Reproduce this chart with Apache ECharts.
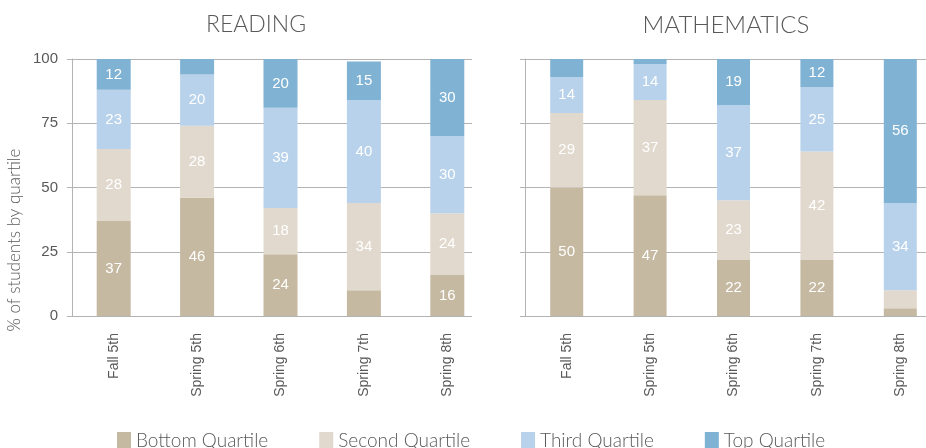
<!DOCTYPE html>
<html>
<head>
<meta charset="utf-8">
<script src="https://cdn.jsdelivr.net/npm/echarts@6/dist/echarts.min.js"></script>
<style>
  html, body { margin: 0; padding: 0; background: #fff; overflow: hidden; }
  /* a bit wider than the window: the math panel runs off the right edge */
  #chart { width: 950px; height: 448px; }
</style>
</head>
<body>
<div id="chart"></div>
<script>
// grades / test periods
var categories = ['Fall 5th', 'Spring 5th', 'Spring 6th', 'Spring 7th', 'Spring 8th']
var quartileNames = ['Bottom Quartile', 'Second Quartile', 'Third Quartile', 'Top Quartile']
var yTicks = [0, 25, 50, 75, 100]

// reading, % of students per quartile
var readingBottom = [37, 46, 24, 10, 16]
var readingSecond = [28, 28, 18, 34, 24]
var readingThird = [23, 20, 39, 40, 30]
var readingTop = [12, 6, 20, 15, 30]

// mathematics
var mathBottom = [50, 47, 22, 22, 3]
var mathSecond = [29, 37, 23, 42, 7]
var mathThird = [14, 14, 37, 25, 34]
var mathTop = [7, 2, 19, 12, 56]

var colors = ['#c6b9a2', '#e2d9ce', '#b8d2eb', '#80b2d4']
var textGray = '#595959'
var lineGray = '#b3b3b3'

var chart = echarts.init(document.getElementById('chart'))

function stackSeries(name, data, color, xIndex, yIndex, stack, width) {
  return {
    name: name,
    type: 'bar',
    stack: stack,
    xAxisIndex: xIndex,
    yAxisIndex: yIndex,
    barWidth: width,
    data: data,
    itemStyle: { color: color },
    label: {
      show: true,
      position: 'inside',
      color: '#fff',
      fontSize: 15,
      fontFamily: 'Liberation Sans',
      formatter: function (p) {
        return p.value >= 11 ? p.value : ''
      }
    }
  }
}

var readingData = [readingBottom, readingSecond, readingThird, readingTop]
var mathData = [mathBottom, mathSecond, mathThird, mathTop]
var series = []
quartileNames.forEach(function (name, i) {
  series.push(stackSeries(name, readingData[i], colors[i], 1, 1, 'reading', 34))
})
quartileNames.forEach(function (name, i) {
  series.push(stackSeries(name, mathData[i], colors[i], 2, 2, 'math', 33))
})

var catAxisLabel = {
  rotate: 90,
  margin: 17,
  color: textGray,
  fontSize: 14,
  fontFamily: 'Liberation Sans'
}

chart.setOption({
  animation: false,
  title: [
    {
      text: 'READING',
      left: 251,
      top: 8,
      textAlign: 'center',
      textStyle: { color: textGray, fontSize: 23, fontWeight: 300, fontFamily: 'Lato' }
    },
    {
      text: 'MATHEMATICS',
      left: 721,
      top: 8,
      textAlign: 'center',
      textStyle: { color: textGray, fontSize: 24, fontWeight: 300, fontFamily: 'Lato' }
    }
  ],
  graphic: [
    {
      type: 'text',
      x: 15,
      y: 240,
      rotation: Math.PI / 2,
      style: {
        text: '% of students by quartile',
        fill: textGray,
        fontSize: 17,
        fontWeight: 300,
        fontFamily: 'Lato',
        align: 'center',
        verticalAlign: 'middle'
      }
    }
  ],
  legend: {
    data: quartileNames,
    left: 117,
    top: 431,
    padding: 0,
    itemWidth: 14,
    itemHeight: 17,
    itemGap: 51,
    icon: 'rect',
    textStyle: { color: textGray, fontSize: 19, fontWeight: 300, fontFamily: 'Lato' }
  },
  grid: [
    // reading gridlines
    { left: 72, width: 400, top: 59, bottom: 132 },
    // reading bars
    { left: 72, width: 417, top: 59, bottom: 132 },
    // mathematics (runs past the right edge of the window)
    { left: 525, width: 417, top: 59, bottom: 132 }
  ],
  xAxis: [
    { gridIndex: 0, type: 'value', min: 0, max: 1, show: false },
    {
      gridIndex: 1,
      type: 'category',
      data: categories,
      axisLine: { show: false },
      axisTick: { show: false },
      axisLabel: catAxisLabel
    },
    {
      gridIndex: 2,
      type: 'category',
      data: categories,
      axisLine: { show: false },
      axisTick: { show: false },
      axisLabel: catAxisLabel
    }
  ],
  yAxis: [
    {
      gridIndex: 0,
      type: 'value',
      min: yTicks[0],
      max: yTicks[yTicks.length - 1],
      interval: 25,
      axisLine: { show: true, lineStyle: { color: lineGray } },
      axisTick: { show: true, length: 5, lineStyle: { color: lineGray } },
      axisLabel: { color: textGray, fontSize: 15, margin: 14, fontFamily: 'Liberation Sans' },
      splitLine: { show: true, lineStyle: { color: lineGray } }
    },
    {
      gridIndex: 1,
      type: 'value',
      min: 0,
      max: 100,
      interval: 25,
      show: false
    },
    {
      gridIndex: 2,
      type: 'value',
      min: 0,
      max: 100,
      interval: 25,
      axisLine: { show: true, lineStyle: { color: lineGray } },
      axisTick: { show: true, length: 5, lineStyle: { color: lineGray } },
      axisLabel: { show: false },
      splitLine: { show: true, lineStyle: { color: lineGray } }
    }
  ],
  series: series
})
</script>
</body>
</html>
